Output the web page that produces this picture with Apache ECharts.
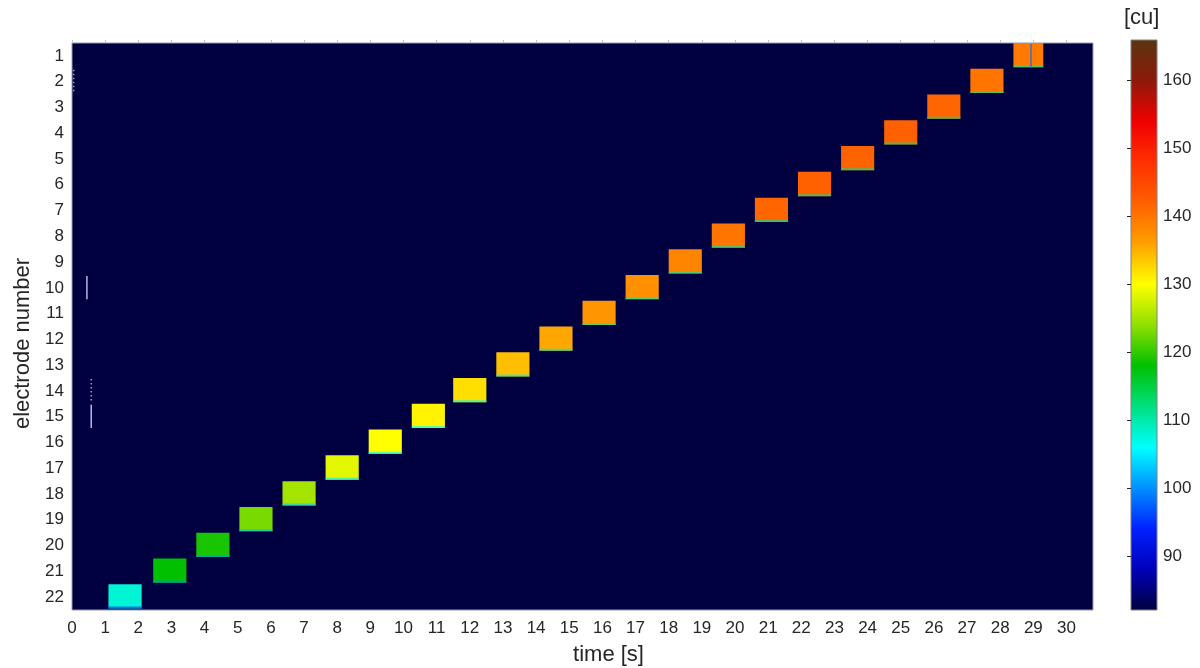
<!DOCTYPE html>
<html>
<head>
<meta charset="utf-8">
<script src="https://cdn.jsdelivr.net/npm/echarts@6/dist/echarts.min.js"></script>
<style>
  html, body { margin: 0; padding: 0; background: #ffffff; }
  #chart { width: 1200px; height: 668px; }
</style>
</head>
<body>
<div id="chart"></div>
<script>
// Electrodes, top to bottom
const electrodes = ['1','2','3','4','5','6','7','8','9','10','11','12','13','14','15','16','17','18','19','20','21','22'];

// Activation window of each electrode (seconds) and its level [cu], electrode 1..22
const blockStart = [28.4, 27.1, 25.8, 24.5, 23.2, 21.9, 20.6, 19.3, 18.0, 16.7, 15.4, 14.1, 12.8, 11.5, 10.25, 8.95, 7.65, 6.35, 5.05, 3.75, 2.45, 1.1];
const blockEnd   = [29.3, 28.1, 26.8, 25.5, 24.2, 22.9, 21.6, 20.3, 19.0, 17.7, 16.4, 15.1, 13.8, 12.5, 11.25, 9.95, 8.65, 7.35, 6.05, 4.75, 3.45, 2.1];
const blockValue = [139.5, 140, 141.5, 142, 141.7, 142, 141.5, 140, 138.5, 137.5, 137, 135.5, 134, 132, 130.7, 130, 128.5, 125, 123, 119, 118, 108];

// Resting level everywhere else [cu]
const baseline = 82.1;

// Short spikes near the start of the recording
const spikeTimes = [0.45, 0.58];
const spikeRows  = ['10', '15'];
const dotTimes   = [0.05, 0.58];
const dotRows    = ['2', '14'];
// Dropped sample inside the last activation
const gapTimes   = [28.93];
const gapRows    = ['1'];

// Axis ticks
const xTicks  = [0,1,2,3,4,5,6,7,8,9,10,11,12,13,14,15,16,17,18,19,20,21,22,23,24,25,26,27,28,29,30];
const cbTicks = [90, 100, 110, 120, 130, 140, 150, 160];
const xMax = 30.8;
const cbMin = 82.1, cbMax = 165.9;

// Colour scale, evenly spaced from cbMin to cbMax
const colormap = ['#000040', '#0000b8', '#0020ff', '#0090ff', '#00ffff', '#00e080', '#00c000',
                  '#90e000', '#ffff00', '#ffa000', '#ff6000', '#ff3000', '#f00000', '#8c1a0a', '#5a3510'];

const FONT = '"Liberation Sans", Arial, Helvetica, sans-serif';
const TXT = '#262626';

const blockData = electrodes.map((e, i) => [blockStart[i], blockEnd[i], e, blockValue[i]]);
const edgeData  = electrodes.map((e, i) => [blockStart[i], blockEnd[i], e, (baseline + blockValue[i]) / 2]);

// Body of an activation window: one band of the electrode axis
function renderBlock(params, api) {
  const a = api.coord([api.value(0), api.value(2)]);
  const b = api.coord([api.value(1), api.value(2)]);
  const bh = api.size([0, 1])[1];
  const top = a[1] - bh / 2;
  return {
    type: 'rect',
    shape: { x: a[0], y: top, width: b[0] - a[0], height: bh - 1.5 },
    style: { fill: api.visual('color') }
  };
}

// Soft transition along the lower edge of each window
function renderEdge(params, api) {
  const a = api.coord([api.value(0), api.value(2)]);
  const b = api.coord([api.value(1), api.value(2)]);
  const bh = api.size([0, 1])[1];
  const bottom = a[1] + bh / 2 - 1.5;
  return {
    type: 'rect',
    shape: { x: a[0], y: bottom - 2, width: b[0] - a[0], height: 2 },
    style: { fill: api.visual('color'), opacity: 0.65 }
  };
}

function lineRenderer(color, dash, width) {
  return function (params, api) {
    const c = api.coord([api.value(0), api.value(1)]);
    const bh = api.size([0, 1])[1];
    return {
      type: 'line',
      shape: { x1: c[0], y1: c[1] - bh / 2 + 1, x2: c[0], y2: c[1] + bh / 2 - 1.5 },
      style: { stroke: color, lineWidth: width, lineDash: dash }
    };
  };
}

const chart = echarts.init(document.getElementById('chart'), null, { renderer: 'canvas' });

chart.setOption({
  animation: false,
  textStyle: { fontFamily: FONT },
  grid: [
    { left: 72, top: 43, width: 1021, height: 567, show: true, outerBoundsMode: 'none',
      backgroundColor: colormap[0], borderColor: '#9a9ab4', borderWidth: 1 },
    { left: 1131, top: 40, width: 26, height: 570, show: false, outerBoundsMode: 'none' }
  ],
  xAxis: [
    { type: 'value', gridIndex: 0, min: 0, max: xMax, position: 'bottom',
      axisLine: { show: false }, axisTick: { show: false }, splitLine: { show: false },
      axisLabel: { customValues: xTicks, fontSize: 17, color: TXT, margin: 10, fontFamily: FONT },
      name: 'time [s]', nameLocation: 'middle', nameGap: 34,
      nameTextStyle: { fontSize: 22, color: TXT, fontFamily: FONT, padding: [0, 0, 0, 52] } },
    { type: 'value', gridIndex: 0, min: 0, max: xMax, position: 'top',
      axisLine: { show: false }, splitLine: { show: false }, axisLabel: { show: false },
      axisTick: { show: true, customValues: xTicks, length: 3, lineStyle: { color: '#c4c4c4' } } },
    { type: 'value', gridIndex: 1, min: 0, max: 1, show: false }
  ],
  yAxis: [
    { type: 'category', gridIndex: 0, data: electrodes, inverse: true,
      axisLine: { show: false }, axisTick: { show: false }, splitLine: { show: false },
      axisLabel: { fontSize: 17, color: TXT, margin: 8, fontFamily: FONT },
      name: 'electrode number', nameLocation: 'middle', nameGap: 33, nameRotate: 90,
      nameTextStyle: { fontSize: 22, color: TXT, fontFamily: FONT, padding: [0, 34, 0, 0] } },
    { type: 'value', gridIndex: 1, min: cbMin, max: cbMax, position: 'right', z: 10,
      axisLine: { show: false }, splitLine: { show: false },
      axisTick: { show: true, inside: true, length: 4, customValues: cbTicks, lineStyle: { color: '#262626' } },
      axisLabel: { customValues: cbTicks, fontSize: 17, color: TXT, margin: 6, fontFamily: FONT } }
  ],
  visualMap: {
    type: 'continuous', show: false, min: cbMin, max: cbMax, dimension: 3,
    seriesIndex: [0, 1], inRange: { color: colormap }
  },
  graphic: [
    { type: 'text', left: 1124, top: 7, z: 20,
      style: { text: '[cu]', font: '22px ' + FONT, fill: TXT } }
  ],
  series: [
    { type: 'custom', name: 'level', xAxisIndex: 0, yAxisIndex: 0, renderItem: renderBlock,
      encode: { x: [0, 1], y: 2 }, data: blockData, z: 2 },
    { type: 'custom', name: 'edge', xAxisIndex: 0, yAxisIndex: 0, renderItem: renderEdge,
      encode: { x: [0, 1], y: 2 }, data: edgeData, z: 3 },
    { type: 'custom', name: 'spikes', xAxisIndex: 0, yAxisIndex: 0,
      renderItem: lineRenderer('#b8b8e0', null, 1.5),
      encode: { x: 0, y: 1 }, data: spikeTimes.map((t, i) => [t, spikeRows[i]]), z: 4 },
    { type: 'custom', name: 'dots', xAxisIndex: 0, yAxisIndex: 0,
      renderItem: lineRenderer('#9a9ae0', [1.5, 2.5], 1.5),
      encode: { x: 0, y: 1 }, data: dotTimes.map((t, i) => [t, dotRows[i]]), z: 4 },
    { type: 'custom', name: 'gap', xAxisIndex: 0, yAxisIndex: 0,
      renderItem: lineRenderer('#6e6e9c', null, 2),
      encode: { x: 0, y: 1 }, data: gapTimes.map((t, i) => [t, gapRows[i]]), z: 4 },
    { type: 'custom', name: 'colorbar', xAxisIndex: 2, yAxisIndex: 1,
      renderItem: function (params, api) {
        const p0 = api.coord([api.value(0), api.value(3)]);
        const p1 = api.coord([api.value(2), api.value(1)]);
        const stops = colormap.map((c, i) => ({ offset: i / (colormap.length - 1), color: c }));
        return {
          type: 'rect',
          shape: { x: p0[0], y: p0[1], width: p1[0] - p0[0], height: p1[1] - p0[1] },
          style: { fill: new echarts.graphic.LinearGradient(0, 1, 0, 0, stops), stroke: '#808080', lineWidth: 1 }
        };
      },
      encode: { x: [0, 2], y: [1, 3] }, data: [[0, cbMin, 1, cbMax]], z: 2 }
  ]
});
</script>
</body>
</html>
